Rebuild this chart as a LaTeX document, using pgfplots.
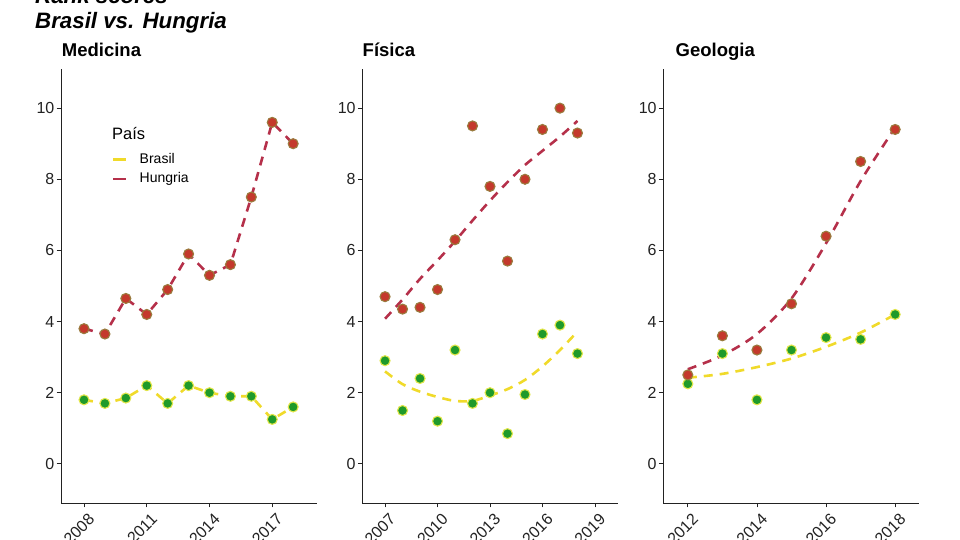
\documentclass[border=0pt]{standalone}
\usepackage{fontspec}
\setmainfont{Liberation Sans}
\usepackage{pgfplots}
\pgfplotsset{compat=1.18}
\definecolor{brL}{HTML}{F0DA2A}
\definecolor{brF}{HTML}{1F9A2A}
\definecolor{brE}{HTML}{E2E64A}
\definecolor{huL}{HTML}{B5304A}
\definecolor{huF}{HTML}{C4392C}
\definecolor{huE}{HTML}{9A7B3E}
\definecolor{axc}{HTML}{222222}
\pgfplotsset{
  panel/.style={
    scale only axis, height=434pt,
    anchor=south west,
    ymin=-1.1, ymax=11.1, ytick={0,2,4,6,8,10},
    axis x line*=bottom, axis y line*=left,
    axis line style={axc, line width=0.9pt, -},
    tick style={axc, line width=0.9pt},
    tick align=outside, major tick length=4.5pt,
    ticklabel style={font=\fontsize{16}{18}\selectfont, text=axc},
    /pgf/number format/assume math mode=true,
    /pgf/number format/1000 sep={},
    xticklabel style={rotate=45, anchor=north east, inner sep=2pt, yshift=-4pt, xshift=1pt},
    yticklabel style={inner sep=2pt},
    clip=false,
  },
  brline/.style={brL, line width=2.6pt, dash pattern=on 9pt off 7pt},
  huline/.style={huL, line width=2.6pt, dash pattern=on 9pt off 7pt},
  brpt/.style={only marks, mark=*, mark size=5pt, mark options={fill=brF, draw=brE, line width=1.1pt, solid}, forget plot},
  hupt/.style={only marks, mark=*, mark size=5pt, mark options={fill=huF, draw=huE, line width=1.1pt, solid}, forget plot},
}
\begin{document}
\begin{tikzpicture}[x=1pt,y=1pt]
\useasboundingbox (0,0) rectangle (960,540);
\clip (0,0) rectangle (960,540);
\node[anchor=base west, inner sep=0pt, font=\fontsize{22.3}{24}\selectfont\bfseries\itshape] at (35,536) {Rank scores};
\node[anchor=base west, inner sep=0pt, font=\fontsize{22.3}{24}\selectfont\bfseries\itshape] at (35,511.7) {Brasil vs. Hungria};
\node[anchor=base west, inner sep=0pt, font=\fontsize{18.5}{21}\selectfont\bfseries] at (61.7,483) {Medicina};
\node[anchor=base west, inner sep=0pt, font=\fontsize{18.5}{21}\selectfont\bfseries] at (362.5,483) {Física};
\node[anchor=base west, inner sep=0pt, font=\fontsize{18.5}{21}\selectfont\bfseries] at (675.5,483) {Geologia};
\node[anchor=base west, inner sep=0pt, font=\fontsize{16.5}{18}\selectfont] at (112,400) {País};

% Panel 1: Medicina
\begin{axis}[panel, at={(61pt,37pt)}, width=256pt,
  xmin=2006.90, xmax=2019.14, xtick={2008,2011,2014,2017},
  legend style={at={(0.199,0.809)}, anchor=north west, draw=none, fill=none,
    font=\fontsize{14}{16}\selectfont, inner sep=0pt, row sep=5pt,
    nodes={inner sep=0pt, text height=11pt, text depth=3.5pt}, cells={anchor=west}},
  legend image code/.code={\draw[#1, solid, line width=2.6pt] (0pt,0pt) -- (13pt,0pt);},
  legend cell align=left]
\addplot[brline] coordinates {(2008,1.8)(2009,1.7)(2010,1.85)(2011,2.2)(2012,1.7)(2013,2.2)(2014,2.0)(2015,1.9)(2016,1.9)(2017,1.25)(2018,1.6)};
\addlegendentry{\hspace{12pt}Brasil}
\addplot[huline] coordinates {(2008,3.8)(2009,3.65)(2010,4.65)(2011,4.2)(2012,4.9)(2013,5.9)(2014,5.3)(2015,5.6)(2016,7.5)(2017,9.6)(2018,9.0)};
\addlegendentry{\hspace{12pt}Hungria}
\addplot[brpt] coordinates {(2008,1.8)(2009,1.7)(2010,1.85)(2011,2.2)(2012,1.7)(2013,2.2)(2014,2.0)(2015,1.9)(2016,1.9)(2017,1.25)(2018,1.6)};
\addplot[hupt] coordinates {(2008,3.8)(2009,3.65)(2010,4.65)(2011,4.2)(2012,4.9)(2013,5.9)(2014,5.3)(2015,5.6)(2016,7.5)(2017,9.6)(2018,9.0)};
\end{axis}

% Panel 2: Fisica
\begin{axis}[panel, at={(362.3pt,37pt)}, width=255.4pt,
  xmin=2005.70, xmax=2020.30, xtick={2007,2010,2013,2016,2019}]
\addplot[brline, smooth] coordinates {(2007,2.6)(2008,2.24)(2009,2.03)(2010,1.88)(2011,1.77)(2012,1.77)(2013,1.92)(2014,2.1)(2015,2.36)(2016,2.74)(2017,3.2)(2018,3.72)};
\addplot[huline, smooth] coordinates {(2007,4.08)(2008,4.62)(2009,5.2)(2010,5.72)(2011,6.26)(2012,6.84)(2013,7.4)(2014,7.92)(2015,8.4)(2016,8.8)(2017,9.2)(2018,9.64)};
\addplot[brpt] coordinates {(2007,2.9)(2008,1.5)(2009,2.4)(2010,1.2)(2011,3.2)(2012,1.7)(2013,2.0)(2014,0.85)(2015,1.95)(2016,3.65)(2017,3.9)(2018,3.1)};
\addplot[hupt] coordinates {(2007,4.7)(2008,4.35)(2009,4.4)(2010,4.9)(2011,6.3)(2012,9.5)(2013,7.8)(2014,5.7)(2015,8.0)(2016,9.4)(2017,10.0)(2018,9.3)};
\end{axis}

% Panel 3: Geologia
\begin{axis}[panel, at={(663.3pt,37pt)}, width=255.7pt,
  xmin=2011.29, xmax=2018.69, xtick={2012,2014,2016,2018}]
\addplot[brline, smooth] coordinates {(2012,2.42)(2013,2.53)(2014,2.72)(2015,2.96)(2016,3.29)(2017,3.69)(2018,4.2)};
\addplot[huline, smooth] coordinates {(2012,2.66)(2013,3.05)(2014,3.65)(2015,4.65)(2016,6.2)(2017,7.95)(2018,9.45)};
\addplot[brpt] coordinates {(2012,2.25)(2013,3.1)(2014,1.8)(2015,3.2)(2016,3.55)(2017,3.5)(2018,4.2)};
\addplot[hupt] coordinates {(2012,2.5)(2013,3.6)(2014,3.2)(2015,4.5)(2016,6.4)(2017,8.5)(2018,9.4)};
\end{axis}
\end{tikzpicture}
\end{document}
